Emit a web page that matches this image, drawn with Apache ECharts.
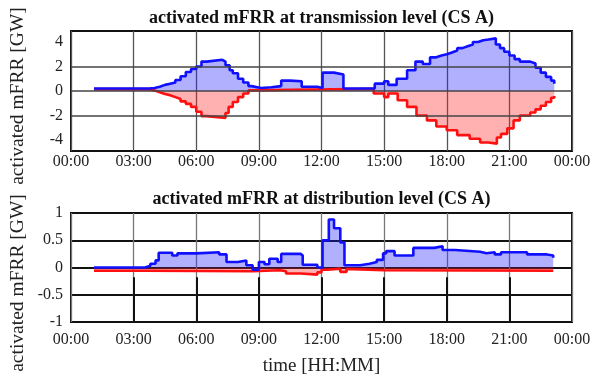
<!DOCTYPE html>
<html><head><meta charset="utf-8">
<script src="https://cdn.jsdelivr.net/npm/echarts@6/dist/echarts.min.js"></script>
<style>html,body{margin:0;padding:0;background:#fff}#c{width:603px;height:381px}</style>
</head><body><div id="c"></div>
<script>
// ---- axis ticks ----
const xTickHours = [0, 3, 6, 9, 12, 15, 18, 21, 24];
const topYTicks = [-4, -2, 0, 2, 4];
const topYGridValues = [-2, 0, 2];
const bottomYTicks = [-1, -0.5, 0, 0.5, 1];

// ---- transmission level (top) : hour of day, GW ----
const transUpHours  = [1.1, 3.75, 4.0, 4.25, 4.5, 4.75, 5.0, 5.25, 5.5, 5.75, 6.0, 6.25, 6.5, 7.25, 7.4, 7.6, 7.75, 8.0, 8.25, 8.5, 8.65, 9.1, 9.6, 10.07, 10.5, 11.05, 11.8, 12.05, 12.6, 13.05, 14.55, 15.0, 15.2, 15.6, 16.1, 16.5, 16.85, 17.2, 17.5, 17.75, 18.0, 18.25, 18.5, 18.75, 19.0, 19.25, 19.5, 19.75, 20.0, 20.35, 20.55, 20.75, 21.0, 21.25, 21.5, 22.0, 22.25, 22.5, 22.75, 23.0, 23.15];
const transUpValues = [0.2, 0.25, 0.35, 0.5, 0.6, 0.7, 0.9, 1.2, 1.55, 1.8, 2.0, 2.4, 2.55, 2.4, 2.1, 1.7, 1.45, 1.0, 0.7, 0.4, 0.25, 0.3, 0.4, 0.85, 0.8, 0.35, 0.25, 1.5, 1.35, 0.2, 0.6, 0.8, 0.5, 1.0, 1.7, 2.4, 2.2, 2.75, 2.9, 3.0, 3.15, 3.3, 3.5, 3.65, 3.8, 4.0, 4.15, 4.2, 4.3, 3.8, 3.5, 3.2, 2.9, 2.6, 2.4, 2.25, 1.9, 1.5, 1.15, 0.85, 0.6];
const transDownHours  = [1.1, 3.75, 4.0, 4.25, 4.5, 4.75, 5.0, 5.25, 5.5, 5.75, 6.0, 6.25, 6.5, 7.4, 7.55, 7.75, 8.0, 8.25, 8.5, 8.7, 14.5, 15.0, 15.2, 15.65, 16.1, 16.55, 17.05, 17.5, 18.0, 18.5, 19.1, 19.6, 20.0, 20.4, 20.6, 20.9, 21.2, 21.5, 22.0, 22.25, 22.5, 22.75, 23.0, 23.15];
const transDownValues = [0.15, 0.05, -0.1, -0.25, -0.35, -0.5, -0.65, -0.85, -1.05, -1.3, -1.7, -2.05, -2.2, -1.8, -1.3, -0.9, -0.5, -0.2, 0.05, 0.18, -0.2, -0.5, -0.2, -0.75, -1.3, -2.0, -2.4, -2.9, -3.2, -3.6, -3.9, -4.2, -4.3, -3.8, -3.5, -3.05, -2.4, -2.0, -1.75, -1.5, -1.2, -0.9, -0.55, -0.4];

// ---- distribution level (bottom) : hour of day, GW ----
const distUpHours  = [1.1, 3.55, 3.8, 4.05, 4.2, 4.85, 5.1, 6.0, 7.1, 7.45, 8.0, 8.4, 8.7, 9.0, 9.27, 9.5, 9.9, 10.07, 11.0, 11.1, 11.8, 12.05, 12.35, 12.6, 12.9, 13.1, 13.85, 14.3, 14.65, 14.95, 15.1, 15.5, 16.4, 17.4, 17.8, 18.4, 19.6, 19.9, 20.3, 20.6, 21.85, 22.8, 23.1];
const distUpValues = [0.0, 0.03, 0.07, 0.13, 0.27, 0.22, 0.26, 0.28, 0.24, 0.1, 0.13, 0.04, -0.04, 0.1, 0.06, 0.16, 0.1, 0.25, 0.22, 0.05, 0.0, 0.5, 0.88, 0.72, 0.46, 0.04, 0.07, 0.1, 0.14, 0.26, 0.3, 0.22, 0.36, 0.39, 0.32, 0.29, 0.26, 0.28, 0.24, 0.28, 0.24, 0.22, 0.18];
const distDownHours  = [1.1, 3.5, 8.7, 10.0, 10.3, 11.0, 11.8, 12.0, 12.3, 12.9, 13.2, 13.5, 15.0, 23.1];
const distDownValues = [-0.06, -0.07, -0.05, -0.07, -0.11, -0.13, -0.09, -0.04, -0.02, -0.08, -0.03, -0.05, -0.06, -0.06];

const FONT = 'Liberation Serif';
const BLUE = '#1010ff', RED = '#ff1010';
const BLUE_FILL = 'rgba(30,30,255,0.35)', RED_FILL = 'rgba(255,30,30,0.35)';

function pairs(h, v) { return h.map((x, i) => [x, v[i]]); }
function hhmm(v) { const h = Math.round(v) % 24; return (h < 10 ? '0' : '') + h + ':00'; }

const labelStyle = { fontFamily: FONT, fontSize: 16, fontWeight: 'normal', color: '#222' };

function xAxis(gridIndex, margin, gridColor) {
  return {
    type: 'value', gridIndex, min: 0, max: 24, interval: 3,
    axisLine: { show: false }, axisTick: { show: false },
    axisLabel: Object.assign({ formatter: hhmm, margin }, labelStyle),
    splitLine: { show: true, lineStyle: { color: gridColor, width: 1.3 } }
  };
}
function areaSeries(xi, data, fill, extra) {
  return Object.assign({
    type: 'line', xAxisIndex: xi, yAxisIndex: xi, data, step: 'end',
    showSymbol: false, symbol: 'none', silent: true,
    lineStyle: { width: 0 }, areaStyle: { color: fill, opacity: 1 }, z: 2
  }, extra || {});
}
function lineSeries(xi, data, color) {
  return {
    type: 'line', xAxisIndex: xi, yAxisIndex: xi, data, step: 'end',
    showSymbol: false, symbol: 'none', silent: true,
    lineStyle: { width: 2.6, color }, z: 4
  };
}

const chart = echarts.init(document.getElementById('c'), null, { renderer: 'canvas' });
chart.setOption({
  animation: false,
  backgroundColor: '#fff',
  textStyle: { fontFamily: FONT },
  grid: [
    { left: 71, top: 31, width: 501, height: 120, show: true, borderColor: '#111', borderWidth: 2, backgroundColor: 'transparent' },
    { left: 71, top: 213, width: 501, height: 109, show: true, borderColor: '#111', borderWidth: 2, backgroundColor: 'transparent' }
  ],
  xAxis: [xAxis(0, 3, '#555'), xAxis(1, 10, '#777')],
  yAxis: [
    {
      type: 'value', gridIndex: 0, min: -4.9, max: 4.9,
      axisLine: { show: false }, axisTick: { show: false },
      axisLabel: Object.assign({ customValues: topYTicks, margin: 8 }, labelStyle),
      splitLine: { show: false }
    },
    {
      type: 'value', gridIndex: 1, min: -1, max: 1, interval: 0.5,
      axisLine: { show: false }, axisTick: { show: false },
      axisLabel: Object.assign({ margin: 8 }, labelStyle),
      splitLine: { show: true, lineStyle: { color: '#111', width: 1.8 } }
    }
  ],
  series: [
    areaSeries(0, pairs(transDownHours, transDownValues), RED_FILL, {
      markLine: {
        silent: true, symbol: 'none', label: { show: false }, animation: false,
        lineStyle: { color: '#444', width: 1.5, type: 'solid' },
        data: topYGridValues.map(v => ({ yAxis: v }))
      }
    }),
    areaSeries(0, pairs(transUpHours, transUpValues), BLUE_FILL),
    lineSeries(0, pairs(transDownHours, transDownValues), RED),
    lineSeries(0, pairs(transUpHours, transUpValues), BLUE),
    areaSeries(1, pairs(distDownHours, distDownValues), RED_FILL, {
      markLine: {
        silent: true, symbol: 'none', label: { show: false }, animation: false,
        lineStyle: { color: '#111', width: 2, type: 'solid' },
        data: xTickHours.slice(1, -1).map(h => [{ coord: [h, -1] }, { coord: [h, -0.18] }])
      }
    }),
    areaSeries(1, pairs(distUpHours, distUpValues), BLUE_FILL),
    lineSeries(1, pairs(distDownHours, distDownValues), RED),
    lineSeries(1, pairs(distUpHours, distUpValues), BLUE)
  ],
  graphic: [
    { type: 'text', x: 321.5, y: 18, silent: true,
      style: { text: 'activated mFRR at transmission level (CS A)', font: 'bold 18px ' + FONT, fill: '#111', textAlign: 'center', textVerticalAlign: 'middle' } },
    { type: 'text', x: 321.5, y: 199, silent: true,
      style: { text: 'activated mFRR at distribution level (CS A)', font: 'bold 18px ' + FONT, fill: '#111', textAlign: 'center', textVerticalAlign: 'middle' } },
    { type: 'text', x: 18, y: 96, rotation: Math.PI / 2, silent: true,
      style: { text: 'activated mFRR [GW]', font: '19.5px ' + FONT, fill: '#222', textAlign: 'center', textVerticalAlign: 'middle' } },
    { type: 'text', x: 18, y: 283, rotation: Math.PI / 2, silent: true,
      style: { text: 'activated mFRR [GW]', font: '19.5px ' + FONT, fill: '#222', textAlign: 'center', textVerticalAlign: 'middle' } },
    { type: 'text', x: 321.5, y: 366, silent: true,
      style: { text: 'time [HH:MM]', font: '19px ' + FONT, fill: '#222', textAlign: 'center', textVerticalAlign: 'middle' } }
  ]
});
</script>
</body></html>
